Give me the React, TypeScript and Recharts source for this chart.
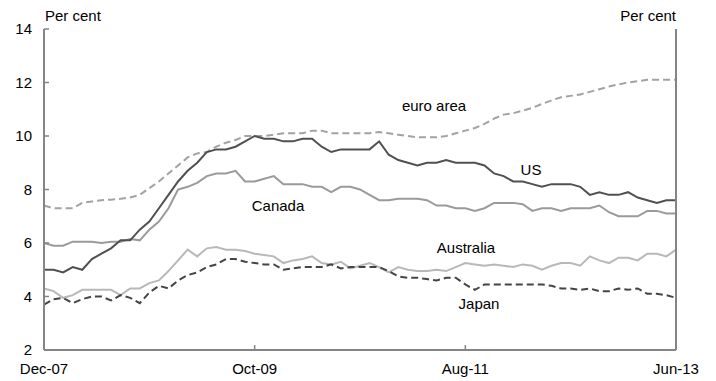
import { LineChart, Line, XAxis, YAxis } from 'recharts';

// monthly, Dec-07 to Jun-13
const monthNames = ['Jan', 'Feb', 'Mar', 'Apr', 'May', 'Jun', 'Jul', 'Aug', 'Sep', 'Oct', 'Nov', 'Dec'];
const months = Array.from({ length: 67 }, (_, k) => {
  const m = (11 + k) % 12;
  const y = 7 + Math.floor((11 + k) / 12);
  return `${monthNames[m]}-${String(y).padStart(2, '0')}`;
});

const xTicks = [0, 22, 44, 66]; // Dec-07, Oct-09, Aug-11, Jun-13
const yTicks = [2, 4, 6, 8, 10, 12, 14];

const us = [
  5.0, 5.0, 4.9, 5.1, 5.0, 5.4, 5.6, 5.8, 6.1, 6.1,
  6.5, 6.8, 7.3, 7.8, 8.3, 8.7, 9.0, 9.4, 9.5, 9.5,
  9.6, 9.8, 10.0, 9.9, 9.9, 9.8, 9.8, 9.9, 9.9, 9.6,
  9.4, 9.5, 9.5, 9.5, 9.5, 9.8, 9.3, 9.1, 9.0, 8.9,
  9.0, 9.0, 9.1, 9.0, 9.0, 9.0, 8.9, 8.6, 8.5, 8.3,
  8.3, 8.2, 8.1, 8.2, 8.2, 8.2, 8.1, 7.8, 7.9, 7.8,
  7.8, 7.9, 7.7, 7.6, 7.5, 7.6, 7.6,
];

const canada = [
  6.0, 5.9, 5.9, 6.05, 6.05, 6.05, 6.0, 6.05, 6.05, 6.15,
  6.1, 6.5, 6.8, 7.3, 8.0, 8.1, 8.25, 8.5, 8.6, 8.6,
  8.7, 8.3, 8.3, 8.4, 8.5, 8.2, 8.2, 8.2, 8.1, 8.1,
  7.9, 8.1, 8.1, 8.0, 7.8, 7.6, 7.6, 7.65, 7.65, 7.65,
  7.6, 7.4, 7.4, 7.3, 7.3, 7.2, 7.3, 7.5, 7.5, 7.5,
  7.45, 7.2, 7.3, 7.3, 7.2, 7.3, 7.3, 7.3, 7.4, 7.15,
  7.0, 7.0, 7.0, 7.2, 7.2, 7.1, 7.1,
];

const euroArea = [
  7.4, 7.3, 7.3, 7.3, 7.5, 7.55, 7.6, 7.62, 7.65, 7.7,
  7.8, 8.05, 8.3, 8.6, 8.9, 9.2, 9.35, 9.4, 9.6, 9.75,
  9.85, 10.0, 10.0, 10.0, 10.05, 10.1, 10.1, 10.1, 10.2, 10.2,
  10.1, 10.1, 10.1, 10.1, 10.1, 10.15, 10.1, 10.05, 10.0, 9.95,
  9.95, 9.95, 10.0, 10.1, 10.2, 10.3, 10.45, 10.65, 10.8, 10.85,
  10.95, 11.05, 11.2, 11.33, 11.45, 11.5, 11.55, 11.65, 11.75, 11.85,
  11.93, 12.0, 12.05, 12.1, 12.1, 12.1, 12.1,
];

const australia = [
  4.3, 4.2, 3.95, 4.05, 4.25, 4.25, 4.25, 4.25, 4.05, 4.3,
  4.3, 4.5, 4.6, 4.95, 5.35, 5.75, 5.5, 5.8, 5.85, 5.75,
  5.75, 5.7, 5.6, 5.55, 5.5, 5.25, 5.35, 5.4, 5.5, 5.25,
  5.2, 5.3, 5.05, 5.15, 5.25, 5.1, 4.9, 5.1, 5.0, 4.95,
  4.95, 5.0, 4.95, 5.1, 5.25, 5.2, 5.15, 5.2, 5.15, 5.1,
  5.2, 5.15, 5.0, 5.15, 5.25, 5.25, 5.15, 5.5, 5.35, 5.25,
  5.45, 5.45, 5.35, 5.6, 5.6, 5.5, 5.75,
];

const japan = [
  3.7, 3.9, 3.95, 3.75, 3.9, 4.0, 4.0, 3.85, 4.05, 3.95,
  3.75, 4.15, 4.4, 4.3, 4.6, 4.8, 4.9, 5.1, 5.2, 5.4,
  5.4, 5.3, 5.25, 5.2, 5.2, 5.0, 5.05, 5.1, 5.1, 5.1,
  5.2, 5.05, 5.1, 5.1, 5.1, 5.1, 4.95, 4.75, 4.7, 4.7,
  4.65, 4.6, 4.7, 4.7, 4.45, 4.25, 4.45, 4.45, 4.45, 4.45,
  4.45, 4.45, 4.45, 4.4, 4.3, 4.3, 4.25, 4.3, 4.2, 4.2,
  4.3, 4.25, 4.3, 4.1, 4.1, 4.05, 3.95,
];

const data = months.map((month, i) => ({
  i,
  month,
  us: us[i],
  canada: canada[i],
  euroArea: euroArea[i],
  australia: australia[i],
  japan: japan[i],
}));

const FONT = '"Liberation Sans", Arial, sans-serif';
const axisGrey = '#858585';
const tickStyle = { fill: '#000', fontSize: 15, fontFamily: FONT };

const labels = [
  { text: 'euro area', x: 434, y: 111 },
  { text: 'US', x: 531, y: 175 },
  { text: 'Canada', x: 278, y: 211 },
  { text: 'Australia', x: 466, y: 253 },
  { text: 'Japan', x: 479, y: 309 },
];

export default function App() {
  return (
    <div style={{ position: 'absolute', left: 0, top: 0, width: 716, height: 381, background: '#fff', fontFamily: FONT }}>
      <LineChart width={716} height={381} data={data} margin={{ top: 29, right: 0, bottom: 0, left: 0 }}>
        <XAxis
          dataKey="i"
          type="number"
          domain={[0, 66]}
          ticks={xTicks}
          tickFormatter={(v) => months[v]}
          height={31}
          axisLine={{ stroke: axisGrey, strokeWidth: 2 }}
          tickLine={{ stroke: axisGrey, strokeWidth: 1.5 }}
          tickSize={-5}
          tickMargin={18}
          tick={tickStyle}
          interval={0}
        />
        <YAxis
          yAxisId="left"
          orientation="left"
          domain={[2, 14]}
          ticks={yTicks}
          width={44}
          axisLine={{ stroke: axisGrey, strokeWidth: 2 }}
          tickLine={{ stroke: axisGrey, strokeWidth: 1.5 }}
          tickSize={-5}
          tickMargin={17}
          tick={tickStyle}
          interval={0}
        />
        <YAxis
          yAxisId="right"
          orientation="right"
          domain={[2, 14]}
          ticks={yTicks}
          width={40}
          axisLine={{ stroke: axisGrey, strokeWidth: 2 }}
          tickLine={{ stroke: axisGrey, strokeWidth: 1.5 }}
          tickSize={-5}
          tickMargin={18}
          tick={tickStyle}
          interval={0}
        />
        <Line yAxisId="left" dataKey="euroArea" stroke="#a2a2a2" strokeWidth={2} strokeDasharray="7 4" dot={false} isAnimationActive={false} />
        <Line yAxisId="left" dataKey="canada" stroke="#9a9a9a" strokeWidth={2} dot={false} isAnimationActive={false} />
        <Line yAxisId="left" dataKey="australia" stroke="#b8b8b8" strokeWidth={2} dot={false} isAnimationActive={false} />
        <Line yAxisId="left" dataKey="japan" stroke="#444444" strokeWidth={2} strokeDasharray="7 4" dot={false} isAnimationActive={false} />
        <Line yAxisId="left" dataKey="us" stroke="#505050" strokeWidth={2} dot={false} isAnimationActive={false} />
      </LineChart>
      <svg width={716} height={381} style={{ position: 'absolute', left: 0, top: 0, pointerEvents: 'none' }}>
        <text x={45} y={21} fontSize={15} fontFamily={FONT} fill="#000">Per cent</text>
        <text x={676} y={21} fontSize={15} fontFamily={FONT} fill="#000" textAnchor="end">Per cent</text>
        {labels.map((l) => (
          <text key={l.text} x={l.x} y={l.y} fontSize={15} fontFamily={FONT} fill="#000" textAnchor="middle">
            {l.text}
          </text>
        ))}
      </svg>
    </div>
  );
}
